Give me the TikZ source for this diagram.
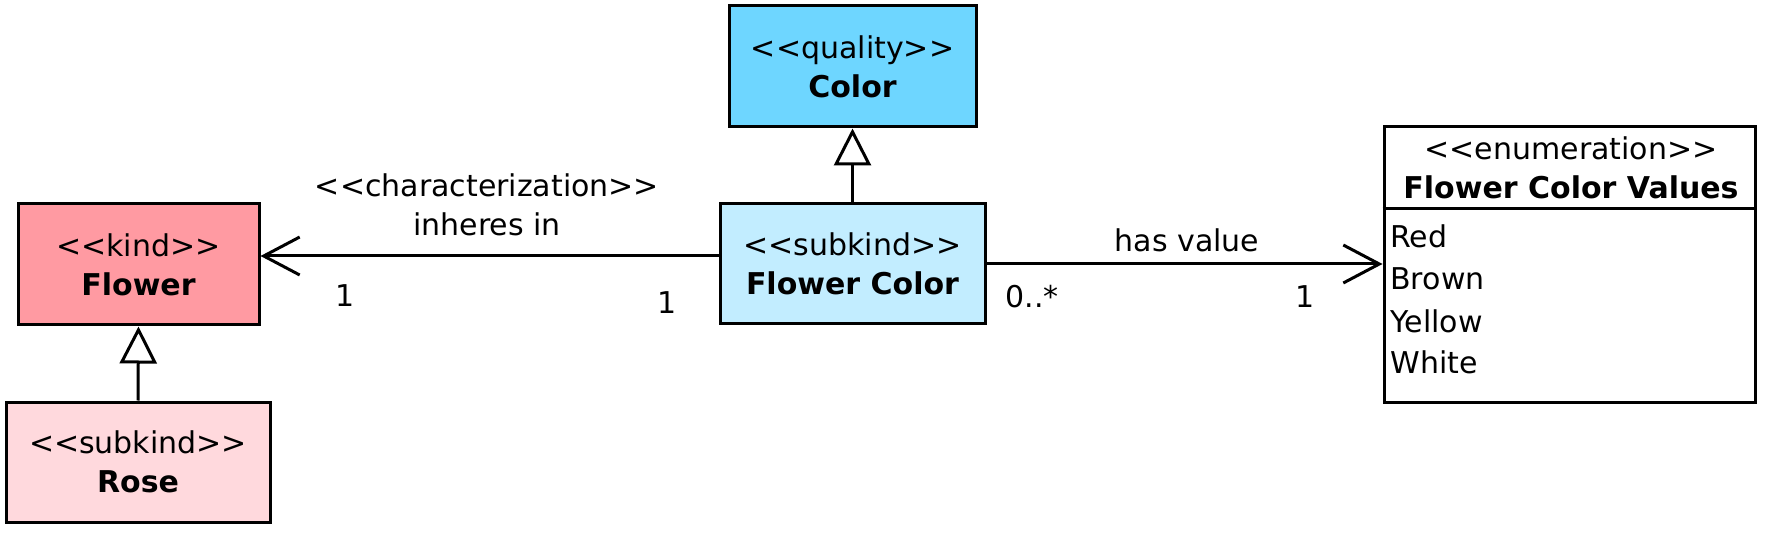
\documentclass[tikz,border=0pt]{standalone}
\usepackage{fontspec}
\setmainfont{DejaVu Sans}[Ligatures=TeXOff]
\usetikzlibrary{arrows.meta}
\definecolor{kindfill}{RGB}{255,154,162}
\definecolor{subkindfill}{RGB}{255,217,221}
\definecolor{qualfill}{RGB}{110,214,255}
\definecolor{subqualfill}{RGB}{194,237,255}
\begin{document}
\begin{tikzpicture}[x=0.5pt,y=-0.5pt,
  every node/.style={font=\fontsize{15}{19.5}\selectfont, text=black},
  umlbox/.style={draw=black, line width=1.5pt, align=center, inner sep=0pt},
  lbl/.style={inner sep=0pt, align=center},
  gen/.style={line width=1.5pt, -{Triangle[open,length=18.5pt,width=18.5pt]}},
  assoc/.style={line width=1.5pt, -{Straight Barb[length=18pt,width=19pt]}}]
\useasboundingbox (0,0) rectangle (1767,534);
% boxes
\node[umlbox, fill=kindfill, minimum width=120.5pt, minimum height=60.5pt] (flower) at (138.5,264.5) {<<kind>>\\\textbf{Flower}};
\node[umlbox, fill=subkindfill, minimum width=132pt, minimum height=60pt] (rose) at (138,462) {<<subkind>>\\\textbf{Rose}};
\node[umlbox, fill=qualfill, minimum width=123.5pt, minimum height=60.5pt] (color) at (852.5,66.5) {<<quality>>\\\textbf{Color}};
\node[umlbox, fill=subqualfill, minimum width=132.5pt, minimum height=60pt] (fc) at (852.5,264) {<<subkind>>\\\textbf{Flower Color}};
\node[umlbox, fill=white, minimum width=185.5pt, minimum height=137.5pt] (enum) at (1569.5,264.5) {};
\coordinate (divy) at (0,209);
\draw[line width=1.5pt] (enum.west |- divy) -- (enum.east |- divy);
\node[lbl] (enumtitle) at (1571,168) {<<enumeration>>\\\textbf{Flower Color Values}};
\node[lbl, anchor=base west] (red) at (1390,248) {Red};
\node[lbl, anchor=base west] (brown) at (1390,290) {Brown};
\node[lbl, anchor=base west] (yellow) at (1390,332) {Yellow};
\node[lbl, anchor=base west] (white) at (1390,373) {White};
% generalizations
\draw[gen] (rose.north) -- (flower.south);
\draw[gen] (fc.north) -- (color.south);
% associations
\draw[assoc] ([yshift=4pt]fc.west) -- ([yshift=4pt]fc.west -| flower.east);
\draw[assoc] (fc.east) -- (fc.east -| enum.west);
% labels
\node[lbl] (charlbl) at (487,205) {<<characterization>>\\inheres in};
\node[lbl] (m1) at (345,296) {1};
\node[lbl] (m2) at (667,303) {1};
\node[lbl] (hasval) at (1187,240) {has value};
\node[lbl] (m3) at (1032,297) {0..*};
\node[lbl] (m4) at (1305,297) {1};
\end{tikzpicture}
\end{document}
